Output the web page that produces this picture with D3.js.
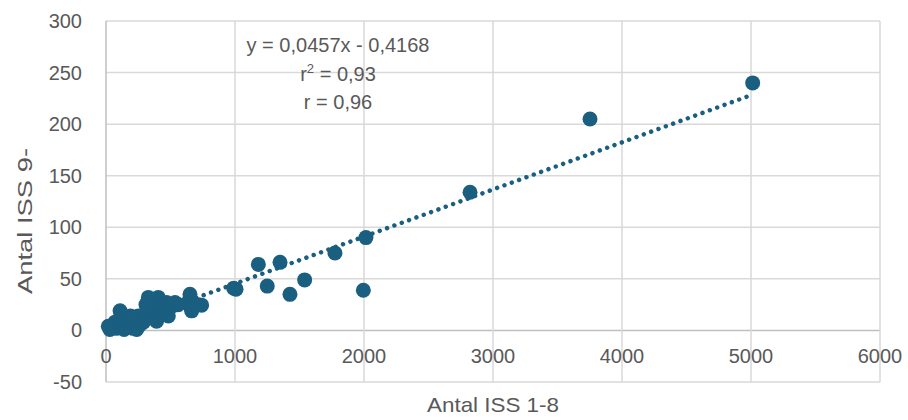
<!DOCTYPE html>
<html>
<head>
<meta charset="utf-8">
<script src="https://cdn.jsdelivr.net/npm/d3@7"></script>
<style>
  body { margin: 0; background: #fff; }
  text { font-family: "Liberation Sans", Arial, sans-serif; fill: #595959; }
</style>
</head>
<body>
<div id="chart"></div>
<script>
// antal ISS 1-8 (x) vs antal ISS 9- (y)
var xVals = [5013, 3752, 2822, 2015, 1995, 1775, 1540, 1426, 1349, 1250, 1181, 1008, 990,
  741, 715, 664, 659, 651, 640, 560, 535, 519, 483, 470, 450, 431, 420, 405, 392, 380, 370,
  354, 350, 328, 328, 310, 300, 290, 276, 260, 250, 238, 220, 210, 200, 190, 173, 160, 150,
  140, 134, 120, 109, 100, 95, 80, 70, 60, 40, 30, 18];
var yVals = [240, 205, 134, 90, 39, 75, 49, 35, 66, 43, 64, 40, 41,
  24.5, 25, 19, 22, 35, 28, 25, 27, 24, 14, 27, 20, 22, 17, 32, 9, 20, 28,
  12, 25, 32, 19, 25, 15, 8, 12, 5, 14, 1, 10, 2, 6, 14, 9, 3, 12,
  1, 3, 6, 19, 10, 4, 2, 8, 5, 3, 1, 4];

var xTicks = [0, 1000, 2000, 3000, 4000, 5000, 6000];
var yTicks = [-50, 0, 50, 100, 150, 200, 250, 300];

var slope = 0.0457;
var intercept = -0.4168;
var eqLines = ["y = 0,0457x - 0,4168", "r2", "r = 0,96"];

var width = 908, height = 420;
var margin = { top: 21, right: 28, bottom: 38, left: 106 };
var plotW = width - margin.left - margin.right;
var plotH = height - margin.top - margin.bottom;

var svg = d3.select("#chart")
  .append("svg")
  .attr("width", width)
  .attr("height", height);

var g = svg.append("g")
  .attr("transform", "translate(" + margin.left + "," + margin.top + ")");

var x = d3.scaleLinear().domain([0, 6000]).range([0, plotW]);
var y = d3.scaleLinear().domain([-50, 300]).range([plotH, 0]);

// gridlines
g.selectAll("line.hgrid")
  .data(yTicks)
  .enter()
  .append("line")
  .attr("class", "hgrid")
  .attr("x1", 0).attr("x2", plotW)
  .attr("y1", function (d) { return y(d); })
  .attr("y2", function (d) { return y(d); })
  .style("stroke", function (d) { return d === 0 ? "#bfbfbf" : "#d9d9d9"; })
  .style("stroke-width", 1.5);

g.selectAll("line.vgrid")
  .data(xTicks)
  .enter()
  .append("line")
  .attr("class", "vgrid")
  .attr("y1", 0).attr("y2", plotH)
  .attr("x1", function (d) { return x(d); })
  .attr("x2", function (d) { return x(d); })
  .style("stroke", function (d) { return d === 0 ? "#bfbfbf" : "#d9d9d9"; })
  .style("stroke-width", 1.5);

// tick labels
g.selectAll("text.ylab")
  .data(yTicks)
  .enter()
  .append("text")
  .attr("class", "ylab")
  .attr("x", -24)
  .attr("y", function (d) { return y(d); })
  .attr("dy", "0.35em")
  .attr("text-anchor", "end")
  .style("font-size", "20px")
  .text(function (d) { return d; });

g.selectAll("text.xlab")
  .data(xTicks)
  .enter()
  .append("text")
  .attr("class", "xlab")
  .attr("x", function (d) { return x(d); })
  .attr("y", y(0) + 26)
  .attr("dy", "0.35em")
  .attr("text-anchor", "middle")
  .style("font-size", "20px")
  .text(function (d) { return d; });

// points
var pts = xVals.map(function (v, i) { return { x: v, y: yVals[i] }; });

g.selectAll("circle")
  .data(pts)
  .enter()
  .append("circle")
  .attr("cx", function (d) { return x(d.x); })
  .attr("cy", function (d) { return y(d.y); })
  .attr("r", 7.5)
  .style("fill", "#1a5e80");

// trendline
var xMin = d3.min(xVals), xMax = d3.max(xVals);
g.append("line")
  .attr("x1", x(xMin)).attr("y1", y(slope * xMin + intercept))
  .attr("x2", x(xMax)).attr("y2", y(slope * xMax + intercept))
  .style("stroke", "#1a5e80")
  .style("stroke-width", 4.5)
  .style("stroke-linecap", "round")
  .style("stroke-dasharray", "0.01 7.8");

// equation label
var eq = svg.append("g").attr("transform", "translate(338,0)");
eq.append("text")
  .attr("y", 45).attr("dy", "0.35em")
  .attr("text-anchor", "middle")
  .style("font-size", "20px")
  .text(eqLines[0]);
var r2 = eq.append("text")
  .attr("y", 74).attr("dy", "0.35em")
  .attr("text-anchor", "middle")
  .style("font-size", "20px");
r2.append("tspan").text("r");
r2.append("tspan").attr("dy", "-8").style("font-size", "13px").text("2");
r2.append("tspan").attr("dy", "8").text(" = 0,93");
eq.append("text")
  .attr("y", 102).attr("dy", "0.35em")
  .attr("text-anchor", "middle")
  .style("font-size", "20px")
  .text(eqLines[2]);

// axis titles
svg.append("text")
  .attr("x", margin.left + plotW / 2)
  .attr("y", 405)
  .attr("dy", "0.35em")
  .attr("text-anchor", "middle")
  .attr("textLength", 132)
  .attr("lengthAdjust", "spacingAndGlyphs")
  .style("font-size", "21px")
  .text("Antal ISS 1-8");

svg.append("text")
  .attr("transform", "translate(25,221) rotate(-90)")
  .attr("dy", "0.35em")
  .attr("text-anchor", "middle")
  .attr("textLength", 146)
  .attr("lengthAdjust", "spacingAndGlyphs")
  .style("font-size", "21px")
  .text("Antal ISS 9-");
</script>
</body>
</html>
